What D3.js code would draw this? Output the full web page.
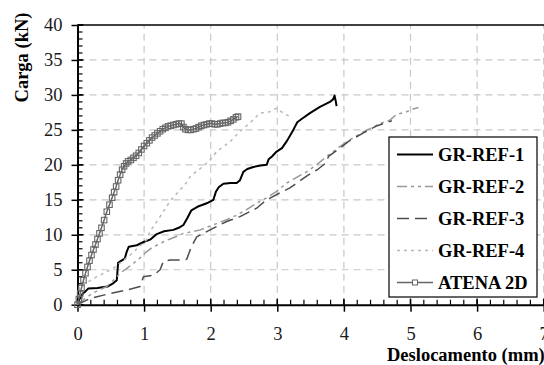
<!DOCTYPE html>
<html>
<head>
<meta charset="utf-8">
<script src="https://cdn.jsdelivr.net/npm/d3@7"></script>
<style>
  body { margin: 0; background: #fff; }
  svg { display: block; }
  svg text { font-family: "Liberation Serif", "DejaVu Serif", serif; }
</style>
</head>
<body>
<div id="chart"></div>
<script>
// tick values
const xTicks = [0, 1, 2, 3, 4, 5, 6, 7];
const yTicks = [0, 5, 10, 15, 20, 25, 30, 35, 40];

// series (mm, kN)
const ref1X = [0,0.03,0.08,0.12,0.16,0.3,0.45,0.54,0.59,0.61,0.66,0.71,0.74,0.77,0.89,1.0,1.09,1.19,1.3,1.44,1.52,1.59,1.65,1.71,1.8,1.94,2.04,2.08,2.12,2.19,2.3,2.39,2.44,2.49,2.55,2.64,2.75,2.84,2.87,2.92,2.99,3.07,3.15,3.24,3.3,3.37,3.49,3.64,3.79,3.84,3.86,3.88,3.89];
const ref1Y = [0,0.8,1.6,1.9,2.3,2.4,2.6,3.1,3.5,6.0,6.3,6.6,7.6,8.3,8.5,9.0,9.3,10.1,10.5,10.7,11.0,11.4,12.4,13.5,14.0,14.5,15.0,16.2,16.8,17.3,17.4,17.4,17.8,19.0,19.4,19.7,19.9,20.0,20.8,21.2,21.9,22.4,23.5,25.0,26.1,26.6,27.4,28.3,29.0,29.4,29.9,29.0,28.4];

const ref2X = [0,0.1,0.19,0.3,0.44,0.55,0.64,0.74,0.84,0.94,1.04,1.11,1.19,1.29,1.39,1.5,1.59,1.7,1.84,1.95,2.09,2.25,2.39,2.54,2.69,2.84,2.99,3.14,3.29,3.44,3.59,3.74,3.94,4.09,4.29,4.44,4.54,4.69,4.79,4.94,5.04,5.12];
const ref2Y = [0,0.8,1.4,2.0,2.6,3.6,4.5,5.2,5.9,6.7,7.6,8.1,8.5,9.0,9.4,9.8,10.2,10.4,10.7,11.1,11.6,12.2,12.8,13.6,14.5,15.3,16.2,17.4,18.2,19.0,20.0,21.2,22.6,23.6,24.7,25.4,25.9,26.4,27.2,27.6,28.0,28.2];

const ref3X = [0,0.19,0.49,0.74,0.94,0.99,1.14,1.24,1.29,1.39,1.59,1.64,1.71,1.79,1.99,2.24,2.44,2.69,2.84,3.04,3.19,3.44,3.6,3.72,3.77,3.94,4.09,4.3,4.5,4.72];
const ref3Y = [0,0.9,1.6,2.1,2.6,4.0,4.2,5.0,6.2,6.4,6.4,6.5,8.3,9.7,10.7,11.9,12.6,13.8,15.0,16.0,16.7,18.4,19.3,20.2,21.2,22.4,23.5,24.6,25.6,26.3];

const ref4X = [0,0.02,0.15,0.29,0.54,0.79,1.04,1.09,1.24,1.39,1.54,1.64,1.69,1.79,1.89,1.99,2.09,2.19,2.29,2.44,2.59,2.74,2.89,2.99,3.09,3.19];
const ref4Y = [0,2.3,3.2,4.0,5.2,7.1,9.3,10.5,12.6,14.8,16.4,17.5,18.3,19.1,19.8,20.7,21.9,22.6,23.3,24.8,26.0,27.4,27.6,28.1,27.4,26.9];

const atenaX = [0,0.02,0.04,0.06,0.09,0.12,0.15,0.18,0.21,0.24,0.27,0.30,0.33,0.36,0.40,0.44,0.48,0.52,0.55,0.58,0.61,0.64,0.67,0.70,0.73,0.76,0.80,0.84,0.88,0.92,0.96,1.00,1.04,1.08,1.12,1.16,1.20,1.24,1.28,1.32,1.36,1.40,1.44,1.48,1.52,1.56,1.59,1.62,1.66,1.70,1.74,1.78,1.82,1.86,1.90,1.94,1.98,2.02,2.06,2.10,2.14,2.18,2.22,2.26,2.30,2.34,2.38,2.41];
const atenaY = [0,0.8,1.6,2.4,3.5,4.5,5.4,6.3,7.1,7.9,8.6,9.4,10.2,11.0,12.1,13.3,14.3,15.3,16.1,16.9,17.8,18.6,19.3,19.8,20.2,20.5,20.7,21.0,21.3,21.7,22.2,22.7,23.1,23.5,23.9,24.2,24.5,24.8,25.1,25.3,25.5,25.6,25.7,25.8,25.9,25.9,25.4,25.1,25.0,25.0,25.1,25.2,25.4,25.6,25.7,25.8,25.9,25.9,25.8,25.8,25.9,26.0,26.0,26.1,26.3,26.5,26.8,26.9];

const seriesNames = ["GR-REF-1", "GR-REF-2", "GR-REF-3", "GR-REF-4", "ATENA 2D"];

const series = [
  {name: seriesNames[0], xs: ref1X, ys: ref1Y, color: "#000", width: 2, dash: null},
  {name: seriesNames[1], xs: ref2X, ys: ref2Y, color: "#999", width: 1.5, dash: "10,4,3,4,3,4"},
  {name: seriesNames[2], xs: ref3X, ys: ref3Y, color: "#4d4d4d", width: 1.5, dash: "12,6"},
  {name: seriesNames[3], xs: ref4X, ys: ref4Y, color: "#b8b8b8", width: 1.5, dash: "3,4"},
  {name: seriesNames[4], xs: atenaX, ys: atenaY, color: "#666", width: 1.5, dash: null, marker: true}
];

const width = 544, height = 365;
const margin = {top: 25, right: 0, bottom: 60, left: 77.5};
const font = "Liberation Serif";

const svg = d3.create("svg").attr("width", width).attr("height", height);

const x = d3.scaleLinear().domain([0, 7]).range([margin.left, 543.7]);
const y = d3.scaleLinear().domain([0, 40]).range([304.7, margin.top]);

// grid
const grid = svg.append("g").attr("stroke", "#c8c8c8").attr("stroke-width", 1.2).attr("stroke-dasharray", "7,5");
grid.selectAll(".gx").data(xTicks.slice(1)).join("line")
  .attr("x1", d => x(d)).attr("x2", d => x(d)).attr("y1", y(0)).attr("y2", y(40));
grid.selectAll(".gy").data(yTicks.slice(1, -1)).join("line")
  .attr("y1", d => y(d)).attr("y2", d => y(d)).attr("x1", x(0)).attr("x2", x(7));

// top border
svg.append("line").attr("x1", x(0)).attr("x2", width).attr("y1", y(40)).attr("y2", y(40))
  .attr("stroke", "#000").attr("stroke-width", 1.5);

// minor ticks inside
const minorY = d3.range(0, 40.01, 1);
svg.append("g").selectAll("line").data(minorY).join("line")
  .attr("x1", x(0)).attr("x2", x(0) + 5).attr("y1", d => y(d)).attr("y2", d => y(d))
  .attr("stroke", "#000").attr("stroke-width", 1.2);
const minorX = d3.range(0, 7.01, 0.2);
svg.append("g").selectAll("line").data(minorX).join("line")
  .attr("y1", y(0)).attr("y2", y(0) - 5).attr("x1", d => x(d)).attr("x2", d => x(d))
  .attr("stroke", "#000").attr("stroke-width", 1.2);
// majors poking inside
svg.append("g").selectAll("line").data(yTicks).join("line")
  .attr("x1", x(0)).attr("x2", x(0) + 6).attr("y1", d => y(d)).attr("y2", d => y(d))
  .attr("stroke", "#000").attr("stroke-width", 1.5);
svg.append("g").selectAll("line").data(xTicks).join("line")
  .attr("y1", y(0)).attr("y2", y(0) - 6).attr("x1", d => x(d)).attr("x2", d => x(d))
  .attr("stroke", "#000").attr("stroke-width", 1.5);

// axes
const yAxis = svg.append("g")
  .attr("transform", `translate(${x(0)},0)`)
  .call(d3.axisLeft(y).tickValues(yTicks).tickFormat(d3.format("d")).tickSize(6).tickPadding(9).tickSizeOuter(0));
const xAxis = svg.append("g")
  .attr("transform", `translate(0,${y(0)})`)
  .call(d3.axisBottom(x).tickValues(xTicks).tickFormat(d3.format("d")).tickSize(7).tickPadding(15).tickSizeOuter(0));

[xAxis, yAxis].forEach(g => {
  g.attr("font-family", font);
  g.select(".domain").attr("stroke-width", 2);
  g.selectAll(".tick line").attr("stroke-width", 1.5);
  g.selectAll("text").attr("font-family", font).attr("font-size", 18.5).attr("fill", "#1a1a1a");
});

// lines
const line = d3.line().x(d => x(d[0])).y(d => y(d[1]));
series.forEach(s => {
  const pts = s.xs.map((v, i) => [v, s.ys[i]]);
  svg.append("path").datum(pts)
    .attr("fill", "none").attr("stroke", s.color).attr("stroke-width", s.width)
    .attr("stroke-dasharray", s.dash).attr("stroke-linejoin", "round")
    .attr("d", line);
  if (s.marker) {
    svg.append("g").selectAll("rect").data(pts).join("rect")
      .attr("x", d => x(d[0]) - 2.75).attr("y", d => y(d[1]) - 2.75)
      .attr("width", 5.5).attr("height", 5.5)
      .attr("fill", "none").attr("stroke", s.color).attr("stroke-width", 1.1);
  }
});

// axis titles
svg.append("text")
  .attr("transform", `translate(28,57.5) rotate(-90)`)
  .attr("text-anchor", "middle")
  .attr("font-family", font).attr("font-weight", "bold").attr("font-size", 18.5)
  .text("Carga (kN)");
svg.append("text")
  .attr("x", 387).attr("y", 361)
  .attr("font-family", font).attr("font-weight", "bold").attr("font-size", 18.5)
  .text("Deslocamento (mm)");

// legend
const legend = svg.append("g");
legend.append("rect").attr("x", 389).attr("y", 137).attr("width", 148).attr("height", 160)
  .attr("fill", "#fff").attr("stroke", "#000").attr("stroke-width", 1.2);
const item = legend.selectAll(".item").data(series).join("g")
  .attr("transform", (d, i) => `translate(0,${154.5 + i * 32})`);
item.append("line").attr("x1", 397).attr("x2", 433).attr("y1", 0).attr("y2", 0)
  .attr("stroke", d => d.color).attr("stroke-width", d => d.width)
  .attr("stroke-dasharray", d => d.dash);
item.filter(d => d.marker).append("rect")
  .attr("x", 412.5).attr("y", -2.5).attr("width", 5).attr("height", 5)
  .attr("fill", "#fff").attr("stroke", d => d.color);
item.append("text").attr("x", 438).attr("y", 6.5)
  .attr("font-family", font).attr("font-weight", "bold").attr("font-size", 18.5)
  .text(d => d.name);

document.getElementById("chart").appendChild(svg.node());
</script>
</body>
</html>
